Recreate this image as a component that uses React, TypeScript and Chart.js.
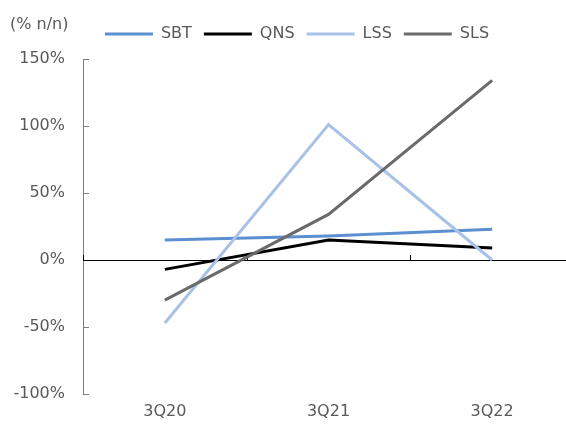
import React, { useEffect, useRef } from "react";
import { Chart, registerables } from "chart.js";

Chart.register(...registerables);

const categories = ["3Q20", "3Q21", "3Q22"];
const sbt = [15, 18, 23];
const qns = [-7, 15, 9];
const lss = [-47, 101, 0];
const sls = [-30, 34, 134];
const unitLabel = "(% n/n)";

const FONT = "'DejaVu Sans', Verdana, sans-serif";
const TEXT = "#595959";

const legendTweak = {
  id: "legendTweak",
  beforeInit(chart: any) {
    const lg = chart.legend;
    if (!lg) return;
    const fit = lg.fit;
    lg.fit = function () {
      fit.call(this);
      this.height += 7;
    };
    const draw = lg.draw;
    lg.draw = function () {
      const ctx = this.ctx;
      ctx.save();
      ctx.translate(10, 0);
      draw.call(this);
      ctx.restore();
    };
  },
};

const customDraw = {
  id: "customDraw",
  beforeDatasetsDraw(chart: any) {
    const { ctx, scales } = chart;
    const x = scales.x;
    const y = scales.y;
    const y0 = y.getPixelForValue(0);
    ctx.save();
    ctx.strokeStyle = "#7f7f7f";
    ctx.lineWidth = 1;
    y.ticks.forEach((t: any) => {
      const py = Math.round(y.getPixelForValue(t.value)) + 0.5;
      ctx.beginPath();
      ctx.moveTo(x.left, py);
      ctx.lineTo(x.left + 6, py);
      ctx.stroke();
    });
    ctx.strokeStyle = "#000000";
    ctx.beginPath();
    ctx.moveTo(x.left, Math.round(y0) + 0.5);
    ctx.lineTo(x.right, Math.round(y0) + 0.5);
    ctx.stroke();
    const n = categories.length;
    for (let i = 0; i <= n; i++) {
      const px = Math.round(x.left + ((x.right - x.left) * i) / n) + 0.5;
      ctx.beginPath();
      ctx.moveTo(px, Math.round(y0) + 0.5);
      ctx.lineTo(px, Math.round(y0) - 5);
      ctx.stroke();
    }
    ctx.restore();
  },
  afterDraw(chart: any) {
    const { ctx } = chart;
    ctx.save();
    ctx.fillStyle = TEXT;
    ctx.font = `16px ${FONT}`;
    ctx.textBaseline = "middle";
    ctx.textAlign = "left";
    ctx.fillText(unitLabel, 10, 25);
    ctx.restore();
  },
};

export default function App() {
  const ref = useRef<HTMLCanvasElement>(null);
  useEffect(() => {
    if (!ref.current) return;
    const mk = (label: string, data: number[], color: string, order: number) => ({
      label,
      data,
      order,
      borderColor: color,
      backgroundColor: color,
      borderWidth: 3,
      pointRadius: 0,
      tension: 0,
      fill: false,
    });
    const chart = new Chart(ref.current, {
      type: "line",
      data: {
        labels: categories,
        datasets: [
          mk("SBT", sbt, "#5b8fd0", 3),
          mk("QNS", qns, "#000000", 2),
          mk("LSS", lss, "#a8c1e7", 1),
          mk("SLS", sls, "#6a6a6a", 0),
        ],
      },
      options: {
        animation: false,
        responsive: false,
        maintainAspectRatio: false,
        layout: { padding: { left: 0, right: 1, top: 14, bottom: 4 } },
        plugins: {
          legend: {
            position: "top",
            labels: {
              usePointStyle: true,
              pointStyle: "line",
              pointStyleWidth: 48,
              boxWidth: 48,
              boxHeight: 16,
              padding: 12,
              color: TEXT,
              font: { family: FONT, size: 16 },
              sort: (a: any, b: any) => a.datasetIndex - b.datasetIndex,
            },
          },
          tooltip: { enabled: false },
        },
        scales: {
          x: {
            offset: true,
            grid: { display: false, drawTicks: false },
            border: { display: false },
            ticks: { color: TEXT, font: { family: FONT, size: 16 }, padding: 8 },
            afterFit: (s: any) => {
              s.height = 29;
            },
          },
          y: {
            min: -100,
            max: 150,
            ticks: {
              stepSize: 50,
              color: TEXT,
              font: { family: FONT, size: 16 },
              padding: 18,
              callback: (v: any) => v + "%",
            },
            grid: { display: true, drawOnChartArea: false, drawTicks: false },
            border: { display: true, color: "#7f7f7f", width: 1 },
            afterFit: (s: any) => {
              s.width = 83;
            },
          },
        },
      },
      plugins: [legendTweak, customDraw],
    });
    return () => chart.destroy();
  }, []);
  return (
    <div style={{ position: "fixed", left: 0, top: 0, width: 566, height: 427, overflow: "hidden", background: "#fff" }}>
      <canvas ref={ref} width={575} height={427} style={{ display: "block", width: 575, height: 427 }} />
    </div>
  );
}
